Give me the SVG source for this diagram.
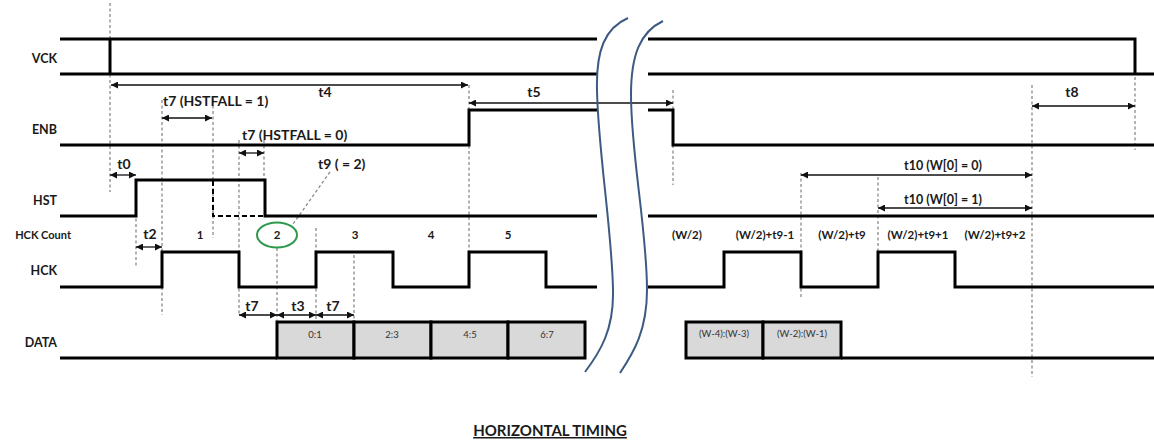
<svg xmlns="http://www.w3.org/2000/svg" width="1154" height="443" viewBox="0 0 1154 443">
<style>
.sig{fill:none;stroke:#000;stroke-width:3;stroke-linejoin:miter}
.dash{fill:none;stroke:#8a8a8a;stroke-width:1.3;stroke-dasharray:3 2.5}
.arr{fill:none;stroke:#111;stroke-width:1.3;marker-start:url(#ah);marker-end:url(#ah)}
.brk{fill:none;stroke:#3d5a82;stroke-width:2}
.box{fill:#d9d9d9;stroke:#000;stroke-width:3}
text{font-family:Lato,"Liberation Sans",sans-serif;fill:#1a1a1a}
.row{font-weight:bold;font-size:12.5px;text-anchor:end}
.tl{font-weight:bold;font-size:14px}
.cnt{font-weight:bold;font-size:11.5px;text-anchor:middle}
.bx{font-size:9.5px;text-anchor:middle;fill:#333}
.ttl{font-weight:bold;font-size:15px;text-anchor:middle;text-decoration:underline}
</style>
<defs>
<marker id="ah" viewBox="0 0 10 10" refX="10" refY="5" markerWidth="7" markerHeight="7" markerUnits="userSpaceOnUse" orient="auto-start-reverse">
<path d="M0,0 L10,5 L0,10 z" fill="#111"/>
</marker>
</defs>

<g id="connectors">
<path class="dash" d="M110,3 V192 M162,100 V315 M213,100 V238 M239,140 V315 M264,140 V180 M136,180 V267 M277,248 V322 M316,228 V320 M354,255 V320 M469,85 V252 M673,90 V185 M801,173 V298 M878,177 V252 M1032,85 V377 M1135,77 V150"/>
<path class="dash" d="M330,172 L293,224"/>
<path class="arr" d="M111,85 H468"/>
<path class="arr" d="M162,118 H212"/>
<path class="arr" d="M239,153 H264"/>
<path class="arr" d="M110,175 H136"/>
<path class="arr" d="M136,247 H162"/>
<path class="arr" d="M239,315 H277"/>
<path class="arr" d="M277,315 H316"/>
<path class="arr" d="M316,315 H354"/>
<path class="arr" d="M469,103 H673"/>
<path class="arr" d="M1032,106 H1135"/>
<path class="arr" d="M801,175 H1032"/>
<path class="arr" d="M878,208 H1032"/>
</g>

<g id="labels">
<text class="row" x="57" y="63">VCK</text>
<text class="row" x="57" y="134">ENB</text>
<text class="row" x="57" y="205">HST</text>
<text class="row" x="71" y="239" style="font-size:11px">HCK Count</text>
<text class="row" x="57" y="275">HCK</text>
<text class="row" x="57" y="347">DATA</text>
</g>

<g id="VCK">
<path class="sig" d="M60,39 H597 M60,74 H597 M110,39 V74"/>
<path class="sig" d="M648,39 H1135 V74 M648,74 H1154"/>
</g>
<g id="ENB">
<path class="sig" d="M60,145 H469 V110 H597"/>
<path class="sig" d="M648,110 H673 V145 H1154"/>
</g>
<g id="HST">
<path class="sig" d="M60,216 H136 V180 H265 V216 H597"/>
<path fill="none" stroke="#000" stroke-width="2" stroke-dasharray="5 3" d="M213,181 V216 H264"/>
<path class="sig" d="M648,216 H1154"/>
</g>
<g id="HCK">
<path class="sig" d="M60,287 H162 V252 H239 V287 H316 V252 H393 V287 H469 V252 H546 V287 H597"/>
<path class="sig" d="M648,287 H724 V252 H801 V287 H878 V252 H955 V287 H1154"/>
</g>
<g id="HCKCount">
<text class="cnt" x="200" y="239">1</text>
<text class="cnt" x="277" y="239">2</text>
<text class="cnt" x="355" y="239">3</text>
<text class="cnt" x="431" y="239">4</text>
<text class="cnt" x="508" y="239">5</text>
<text class="cnt" x="687" y="239">(W/2)</text>
<text class="cnt" x="765" y="239">(W/2)+t9-1</text>
<text class="cnt" x="842" y="239">(W/2)+t9</text>
<text class="cnt" x="918" y="239">(W/2)+t9+1</text>
<text class="cnt" x="995" y="239">(W/2)+t9+2</text>
<ellipse cx="277" cy="235" rx="20" ry="12.5" fill="none" stroke="#2f9a4e" stroke-width="2"/>
</g>
<g id="DATA">
<path class="sig" d="M60,358 H277"/>
<rect class="box" x="277" y="322" width="77" height="36"/>
<rect class="box" x="354" y="322" width="77" height="36"/>
<rect class="box" x="431" y="322" width="77" height="36"/>
<rect class="box" x="508" y="322" width="77" height="36"/>
<text class="bx" x="315" y="338">0:1</text>
<text class="bx" x="392" y="338">2:3</text>
<text class="bx" x="470" y="338">4:5</text>
<text class="bx" x="547" y="338">6:7</text>
<rect class="box" x="686" y="322" width="77" height="36"/>
<rect class="box" x="763" y="322" width="78" height="36"/>
<text class="bx" x="724" y="337">(W-4):(W-3)</text>
<text class="bx" x="802" y="337">(W-2):(W-1)</text>
<path class="sig" d="M841,358 H1154"/>
</g>

<g id="break">
<path class="brk" d="M628,18 C605,28 596,50 597,90 C598,150 612,230 613,290 C614,330 600,352 585,372"/>
<path class="brk" d="M663,21 C640,32 631,55 631,95 C631,155 647,230 647,290 C647,330 634,352 620,373"/>
</g>

<g id="timing-labels">
<text class="tl" x="325" y="97" text-anchor="middle">t4</text>
<text class="tl" x="534" y="97" text-anchor="middle">t5</text>
<text class="tl" x="1072" y="97" text-anchor="middle">t8</text>
<text class="tl" x="163" y="106">t7 (HSTFALL = 1)</text>
<text class="tl" x="242" y="140">t7 (HSTFALL = 0)</text>
<text class="tl" x="124" y="169" text-anchor="middle">t0</text>
<text class="tl" x="318" y="169">t9 ( = 2)</text>
<text class="tl" x="150" y="239" text-anchor="middle">t2</text>
<text class="tl" x="252" y="311" text-anchor="middle">t7</text>
<text class="tl" x="298" y="311" text-anchor="middle">t3</text>
<text class="tl" x="333" y="311" text-anchor="middle">t7</text>
<text class="tl" x="943" y="170" text-anchor="middle" style="font-size:12.5px">t10 (W[0] = 0)</text>
<text class="tl" x="943" y="204" text-anchor="middle" style="font-size:12.5px">t10 (W[0] = 1)</text>
</g>

<text class="ttl" x="550" y="436">HORIZONTAL TIMING</text>
</svg>
